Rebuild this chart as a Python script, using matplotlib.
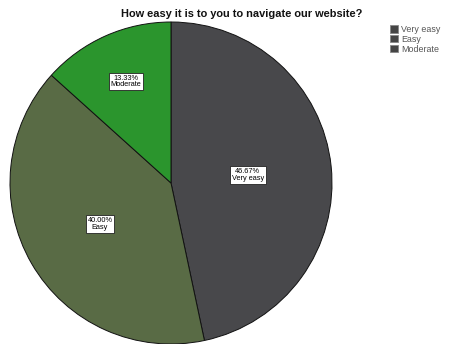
import numpy as np
import matplotlib.pyplot as plt
from matplotlib.patches import Patch

plt.rcParams["font.family"] = ["Liberation Sans", "DejaVu Sans"]

categories = ["Very easy", "Easy", "Moderate"]
percents = [46.67, 40.00, 13.33]
colors = ["#48484b", "#596b45", "#2b952d"]
# how far out along each wedge's mid-angle the label box sits
label_radii = [0.48, 0.51, 0.69]

fig = plt.figure(figsize=(4.5, 3.44), dpi=100)
ax = fig.add_axes([10 / 450, 0, 322 / 450, 322 / 344])

wedges, _ = ax.pie(
    percents,
    colors=colors,
    startangle=90,
    counterclock=False,
    radius=1.0,
    wedgeprops=dict(edgecolor="#111111", linewidth=0.7),
)
ax.set_xlim(-1, 1)
ax.set_ylim(-1, 1)
ax.set_aspect("equal")
ax.axis("off")

for w, cat, pct, r in zip(wedges, categories, percents, label_radii):
    mid = np.deg2rad((w.theta1 + w.theta2) / 2)
    ax.text(
        r * np.cos(mid), r * np.sin(mid),
        f"{pct:.2f}%\n{cat}",
        ha="center", va="center", fontsize=5.3, linespacing=0.95,
        bbox=dict(boxstyle="square,pad=0.25", facecolor="white", edgecolor="#222222", linewidth=0.6),
    )

fig.text(242 / 450, 1 - 14 / 344, "How easy it is to you to navigate our website?",
         ha="center", va="center", fontsize=7.9, fontweight="bold", color="#111111")

handles = [Patch(facecolor="#454545", edgecolor="#888888", linewidth=0.6) for _ in categories]
fig.legend(
    handles, categories,
    loc="upper left", bbox_to_anchor=(388 / 450, 1 - 23 / 344),
    frameon=False, fontsize=6.4, labelcolor="#555555",
    handlelength=0.95, handleheight=0.95, handletextpad=0.3,
    labelspacing=0.1, borderpad=0.2, borderaxespad=0,
)

fig.savefig("out.png", dpi=100, facecolor="white")
